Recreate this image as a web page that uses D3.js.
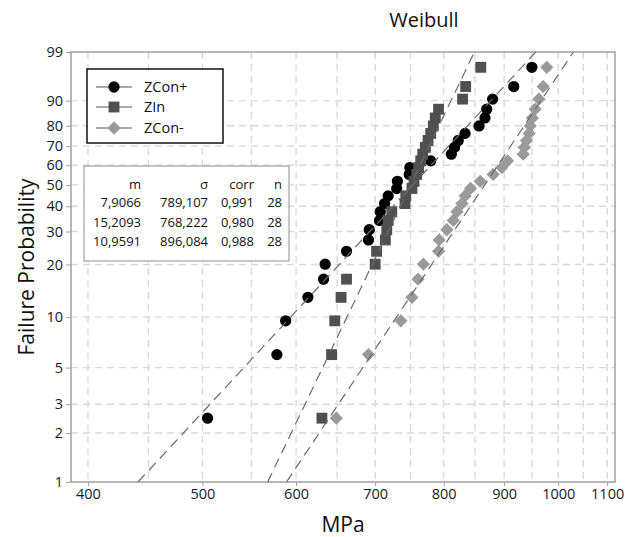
<!DOCTYPE html>
<html>
<head>
<meta charset="utf-8">
<script src="https://cdn.jsdelivr.net/npm/d3@7"></script>
<style>
  html, body { margin: 0; padding: 0; background: #fff; }
  svg { display: block; font-family: "Open Sans", "Noto Sans", sans-serif; }
</style>
</head>
<body>
<svg id="chart" width="634" height="537"></svg>
<script>
// ---------- data ----------
const seriesNames = ["ZCon+", "ZIn", "ZCon-"];
// median-rank failure probabilities (%) for n = 28
const probabilities = [2.465, 5.986, 9.507, 13.028, 16.549, 20.070, 23.592, 27.113, 30.634, 34.155,
  37.676, 41.197, 44.718, 48.239, 51.761, 55.282, 58.803, 62.324, 65.845, 69.366,
  72.887, 76.408, 79.930, 83.451, 86.972, 90.493, 94.014, 97.535];
const zconPlus = [505, 578, 588, 614, 633, 635, 662, 691, 692, 706, 707, 713, 718, 730, 731,
  748, 749, 780, 812, 817, 823, 834, 857, 867, 870, 880, 917, 950];
const zIn = [631, 643, 647, 655, 662, 700, 702, 714, 716, 718, 723, 742, 743, 752, 755,
  759, 762, 765, 768, 772, 776, 780, 784, 787, 792, 830, 835, 860];
const zconMinus = [649, 691, 736, 752, 761, 769, 792, 793, 805, 815, 821, 829, 834, 843, 859,
  881, 896, 906, 934, 936, 940, 945, 947, 951, 956, 963, 971, 978];
const shapeM = [7.9066, 15.2093, 10.9591];
const scaleSigma = [789.107, 768.222, 896.084];
const corrValues = ["0,991", "0,980", "0,988"];
const nValues = [28, 28, 28];
const mLabels = ["7,9066", "15,2093", "10,9591"];
const sigmaLabels = ["789,107", "768,222", "896,084"];
const xTicks = [400, 500, 600, 700, 800, 900, 1000, 1100];
const xGrid = [400, 450, 500, 550, 600, 650, 700, 750, 800, 850, 900, 950, 1000, 1050, 1100];
const yTicks = [1, 2, 3, 5, 10, 20, 30, 40, 50, 60, 70, 80, 90, 99];

// ---------- setup ----------
const svg = d3.select("#chart");
const L = 71, R = 615, T = 52, B = 482;
const weib = p => Math.log(-Math.log(1 - p / 100));
const x = d3.scaleLog().domain([387, 1117]).range([L, R]);
const yLin = d3.scaleLinear().domain([weib(1), weib(99)]).range([B, T]);
const y = p => yLin(weib(p));

const colors = ["#000000", "#505050", "#9a9a9a"];

svg.append("defs").append("clipPath").attr("id", "plotclip")
  .append("rect").attr("x", L).attr("y", T).attr("width", R - L).attr("height", B - T);

// grid
const grid = svg.append("g");
grid.selectAll("line.vg").data(xGrid).enter().append("line")
  .attr("x1", d => x(d)).attr("x2", d => x(d)).attr("y1", T).attr("y2", B)
  .attr("stroke", "#d9d9d9").attr("stroke-width", 1.4).attr("stroke-dasharray", "7,5");
grid.selectAll("line.hg").data(yTicks.filter(d => d !== 1 && d !== 99)).enter().append("line")
  .attr("y1", d => y(d)).attr("y2", d => y(d)).attr("x1", L).attr("x2", R)
  .attr("stroke", "#d9d9d9").attr("stroke-width", 1.4).attr("stroke-dasharray", "7,5");

// frame
svg.append("rect").attr("x", L).attr("y", T).attr("width", R - L).attr("height", B - T)
  .attr("fill", "none").attr("stroke", "#a0a0a0").attr("stroke-width", 1.5);

// axes
const xAxis = d3.axisBottom(x).tickValues(xTicks).tickFormat(d3.format("d")).tickSize(4).tickPadding(3);
const gx = svg.append("g").attr("transform", `translate(0,${B})`).call(xAxis);
gx.select(".domain").remove();
gx.selectAll(".tick line").attr("stroke", "#a0a0a0");
gx.selectAll(".tick text").attr("font-size", 14.5).attr("fill", "#1a1a1a").attr("font-family", "Open Sans");

const yAxis = d3.axisLeft(yLin).tickValues(yTicks.map(weib))
  .tickFormat((d, i) => yTicks[i]).tickSize(5).tickPadding(3);
const gy = svg.append("g").attr("transform", `translate(${L},0)`).call(yAxis);
gy.select(".domain").remove();
gy.selectAll(".tick line").attr("stroke", "#a0a0a0");
gy.selectAll(".tick text").attr("font-size", 14.5).attr("fill", "#1a1a1a").attr("font-family", "Open Sans");

// titles
svg.append("text").attr("x", 424).attr("y", 27).attr("text-anchor", "middle")
  .attr("font-size", 20).attr("fill", "#111").text("Weibull");
svg.append("text").attr("x", 343).attr("y", 532).attr("text-anchor", "middle")
  .attr("font-size", 21).attr("fill", "#111").text("MPa");
svg.append("text").attr("transform", "translate(34,267) rotate(-90)").attr("text-anchor", "middle")
  .attr("font-size", 21).attr("fill", "#111").text("Failure Probability");

// markers
const allSeries = [zconPlus, zIn, zconMinus];
const symbols = [
  d3.symbol().type(d3.symbolCircle).size(100),
  d3.symbol().type(d3.symbolSquare).size(118),
  d3.symbol().type(d3.symbolSquare).size(88)
];
const rot = [0, 0, 45];
const plot = svg.append("g").attr("clip-path", "url(#plotclip)");
allSeries.forEach((vals, s) => {
  plot.append("g").selectAll("path").data(vals).enter().append("path")
    .attr("d", symbols[s]())
    .attr("transform", (d, i) => `translate(${x(d)},${y(probabilities[i])}) rotate(${rot[s]})`)
    .attr("fill", colors[s]);
});

// fitted lines
shapeM.forEach((m, s) => {
  const sig = scaleSigma[s];
  const pts = [1, 99].map(p => [sig * Math.pow(-Math.log(1 - p / 100), 1 / m), p]);
  plot.append("line")
    .attr("x1", x(pts[0][0])).attr("y1", y(pts[0][1]))
    .attr("x2", x(pts[1][0])).attr("y2", y(pts[1][1]))
    .attr("stroke", "#6a6a6a").attr("stroke-width", 1.2).attr("stroke-dasharray", "10,6");
});

// legend
const lg = svg.append("g");
lg.append("rect").attr("x", 87).attr("y", 69).attr("width", 136).attr("height", 74)
  .attr("fill", "#fff").attr("stroke", "#111").attr("stroke-width", 1.5);
const legY = [87, 107, 128];
seriesNames.forEach((nm, s) => {
  lg.append("line").attr("x1", 96).attr("x2", 132).attr("y1", legY[s]).attr("y2", legY[s])
    .attr("stroke", "#555").attr("stroke-width", 1);
  lg.append("path").attr("d", symbols[s]())
    .attr("transform", `translate(114,${legY[s]}) rotate(${rot[s]})`).attr("fill", colors[s]);
  lg.append("text").attr("x", 144).attr("y", legY[s] + 5).attr("font-size", 14.5)
    .attr("fill", "#111").text(nm);
});

// stats table
const tb = svg.append("g");
tb.append("rect").attr("x", 84).attr("y", 166).attr("width", 205).attr("height", 95)
  .attr("fill", "#fff").attr("stroke", "#a0a0a0").attr("stroke-width", 1.2);
const colX = [141, 208, 254, 282];
const header = ["m", "\u03c3", "corr", "n"];
header.forEach((h, c) => {
  tb.append("text").attr("x", colX[c]).attr("y", 189).attr("text-anchor", "end")
    .attr("font-size", 13).attr("fill", "#111").text(h);
});
const rowY = [207, 227, 246];
rowY.forEach((ry, r) => {
  [mLabels[r], sigmaLabels[r], corrValues[r], String(nValues[r])].forEach((t, c) => {
    tb.append("text").attr("x", colX[c]).attr("y", ry).attr("text-anchor", "end")
      .attr("font-size", 13).attr("fill", "#111").text(t);
  });
});
</script>
</body>
</html>
